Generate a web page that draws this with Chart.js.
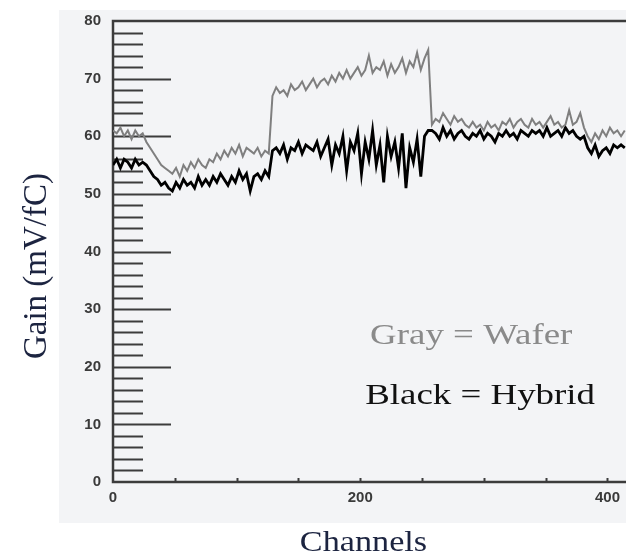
<!DOCTYPE html>
<html lang="en">
<head>
    <meta charset="UTF-8">
    <title>Gain vs Channels</title>
    <script src="https://cdn.jsdelivr.net/npm/chart.js"></script>
    <style>
        body {
            margin: 0;
            padding: 0;
            background: #ffffff;
        }
        .chart-box {
            width: 633px;
            height: 556px;
            position: relative;
        }
    </style>
</head>
<body>
    <div class="chart-box">
        <canvas id="gainChart"></canvas>
    </div>

    <script>
        // one reading every 3 channels, channel 0 .. 414
        const channelStep = 3;

        // Gray = Wafer
        const waferGain = [
            61, 60.5, 61.5, 60, 61, 59.5, 61, 60, 60.5,
            59, 58, 57, 56, 55, 54.5, 54,
            53.5, 54.5, 53, 55, 54, 55.5, 54.5, 56, 55, 54.5, 56,
            55.5, 57, 56, 57.5, 56.5, 58, 57, 58.5, 56.5, 58, 57.5, 57, 58, 56.5, 57.5, 57,
            67, 68.5, 67.5, 68, 67, 69, 68, 68.5, 69.5, 68,
            69, 70, 68.5, 69.5, 70, 69, 70.5, 69.5, 71, 70,
            71.5, 70, 71, 72, 70.5, 71.5, 74, 71, 72, 71.5,
            73, 70.5, 72.5, 71, 72, 73.5, 71, 73, 72, 74.5,
            71.5, 73.5, 75,
            62, 63, 62.5, 64, 63, 62, 63.5, 62.5, 63, 62,
            61.5, 62.5, 61.5, 62, 61, 62.5, 61.5, 62, 61, 62.5,
            62, 63, 61.5, 62.5, 63, 62, 61.5, 63, 62, 62.5,
            61.5, 62.5, 63.5, 62, 62.5, 61.5, 62, 64.5, 62, 62.5,
            64, 61.5,
            60, 59, 60.5, 59.5, 61, 60, 61.5, 60.5, 61, 60, 61
        ];

        // Black = Hybrid
        const hybridGain = [
            55, 56, 54.5, 56, 55.5, 54.5, 56, 55, 55.5,
            55, 54, 53, 52.5, 51.5, 52, 51,
            50.5, 52, 51, 52.5, 51.5, 52, 51, 53, 51.5, 52.5, 51.5,
            53, 52, 53.5, 52.5, 51.5, 53, 52, 54, 52.5, 53.5, 50.5, 53, 53.5, 52.5, 54, 53,
            57.5, 58, 57, 58.5, 56, 58, 57.5, 59, 57, 58.5,
            58, 57.5, 59, 56.5, 58, 59.5, 55, 58.5, 57, 60,
            54, 59, 57.5, 60.5, 53.5, 59, 56, 61, 55, 58.5,
            52, 60, 56.5, 59, 54.5, 60.5, 51, 58, 55.5, 59.5,
            53, 60, 61,
            61, 60.5, 59.5, 61.5, 60, 61, 59.5, 60.5, 61, 60,
            59.5, 60.5, 60, 61, 59.5, 60.5, 60, 59, 60.5, 60,
            61, 60, 60.5, 59.5, 61, 60.5, 60, 61, 60.5, 61,
            60, 61.5, 60, 60.5, 61, 60, 61.5, 60.5, 61, 60,
            59.5, 60,
            58, 57, 58.5, 56.5, 57.5, 58, 57, 58.5, 58, 58.5, 58
        ];

        const channels = waferGain.map((_, i) => i * channelStep);

        const yTickValues = [0, 10, 20, 30, 40, 50, 60, 70, 80];
        const xTickValues = [0, 200, 400];

        const serif = '"Liberation Serif", "Times New Roman", serif';
        const titleColor = '#1c2440';
        const tickFont = { family: '"Liberation Sans", Arial, sans-serif', size: 15, weight: 'bold' };

        // gray panel, axis frame and the inward tick marks
        const framePlugin = {
            id: 'frame',
            beforeDraw(chart) {
                const { ctx, chartArea: a } = chart;
                ctx.save();
                ctx.fillStyle = '#f3f4f6';
                ctx.fillRect(a.left - 54, a.top - 11, a.right - a.left + 54, a.bottom - a.top + 52);
                ctx.restore();
            },
            beforeDatasetsDraw(chart) {
                const { ctx, chartArea: a, scales } = chart;
                ctx.save();
                ctx.strokeStyle = '#3c3c3c';
                ctx.lineWidth = 2;
                ctx.beginPath();
                // minor every 2, major every 10
                for (let v = 2; v < 80; v += 2) {
                    const y = Math.round(scales.y.getPixelForValue(v)) + 0.5;
                    const len = v % 10 === 0 ? 58 : 30;
                    ctx.moveTo(a.left, y);
                    ctx.lineTo(a.left + len, y);
                }
                // small x ticks every 50 channels
                for (let c = 50; c <= 400; c += 50) {
                    const x = Math.round(scales.x.getPixelForValue(c)) + 0.5;
                    ctx.moveTo(x, a.bottom);
                    ctx.lineTo(x, a.bottom - 4);
                }
                ctx.stroke();
                ctx.lineWidth = 2.5;
                ctx.beginPath();
                ctx.moveTo(a.right, a.top);
                ctx.lineTo(a.left, a.top);
                ctx.lineTo(a.left, a.bottom);
                ctx.lineTo(a.right, a.bottom);
                ctx.stroke();
                ctx.restore();
            },
            afterDraw(chart) {
                const { ctx, chartArea: a, scales } = chart;
                ctx.save();
                // axis titles
                ctx.fillStyle = titleColor;
                ctx.font = '33px ' + serif;
                ctx.textAlign = 'center';
                ctx.textBaseline = 'alphabetic';
                ctx.save();
                ctx.translate(46, 266);
                ctx.rotate(-Math.PI / 2);
                ctx.fillText('Gain (mV/fC)', 0, 0);
                ctx.restore();

                ctx.save();
                ctx.translate((a.left + a.right) / 2 - 6, 551);
                ctx.scale(1.14, 1);
                ctx.font = '30px ' + serif;
                ctx.fillText('Channels', 0, 0);
                ctx.restore();

                // legend written inside the plot
                ctx.font = '30px ' + serif;
                ctx.textAlign = 'left';
                ctx.save();
                ctx.translate(scales.x.getPixelForValue(208), scales.y.getPixelForValue(23.9));
                ctx.scale(1.23, 1);
                ctx.fillStyle = '#8a8a8a';
                ctx.fillText('Gray = Wafer', 0, 0);
                ctx.restore();
                ctx.save();
                ctx.translate(scales.x.getPixelForValue(204), scales.y.getPixelForValue(13.5));
                ctx.scale(1.23, 1);
                ctx.fillStyle = '#111111';
                ctx.fillText('Black = Hybrid', 0, 0);
                ctx.restore();
                ctx.restore();
            }
        };

        const ctx = document.getElementById('gainChart').getContext('2d');
        const gainChart = new Chart(ctx, {
            type: 'line',
            data: {
                labels: channels,
                datasets: [
                    {
                        label: 'Wafer',
                        data: waferGain,
                        borderColor: '#7f7f7f',
                        borderWidth: 2,
                        pointRadius: 0,
                        tension: 0,
                        fill: false
                    },
                    {
                        label: 'Hybrid',
                        data: hybridGain,
                        borderColor: '#000000',
                        borderWidth: 2.8,
                        pointRadius: 0,
                        tension: 0,
                        fill: false
                    }
                ]
            },
            options: {
                responsive: true,
                maintainAspectRatio: false,
                animation: false,
                layout: {
                    padding: { top: 19, right: 7, left: 0, bottom: 0 }
                },
                plugins: {
                    legend: { display: false },
                    tooltip: { enabled: false }
                },
                scales: {
                    x: {
                        type: 'linear',
                        min: 0,
                        max: 415,
                        grid: { display: false, drawTicks: false },
                        border: { display: false },
                        afterFit: scale => { scale.height = 74; },
                        afterBuildTicks: scale => {
                            scale.ticks = xTickValues.map(v => ({ value: v }));
                        },
                        ticks: {
                            padding: 7,
                            maxRotation: 0,
                            autoSkip: false,
                            color: '#3a3a3a',
                            font: tickFont
                        }
                    },
                    y: {
                        min: 0,
                        max: 80,
                        grid: { display: false, drawTicks: false },
                        border: { display: false },
                        afterFit: scale => { scale.width = 113; },
                        afterBuildTicks: scale => {
                            scale.ticks = yTickValues.map(v => ({ value: v }));
                        },
                        ticks: {
                            padding: 12,
                            color: '#3a3a3a',
                            font: tickFont
                        }
                    }
                }
            },
            plugins: [framePlugin]
        });
    </script>
</body>
</html>
